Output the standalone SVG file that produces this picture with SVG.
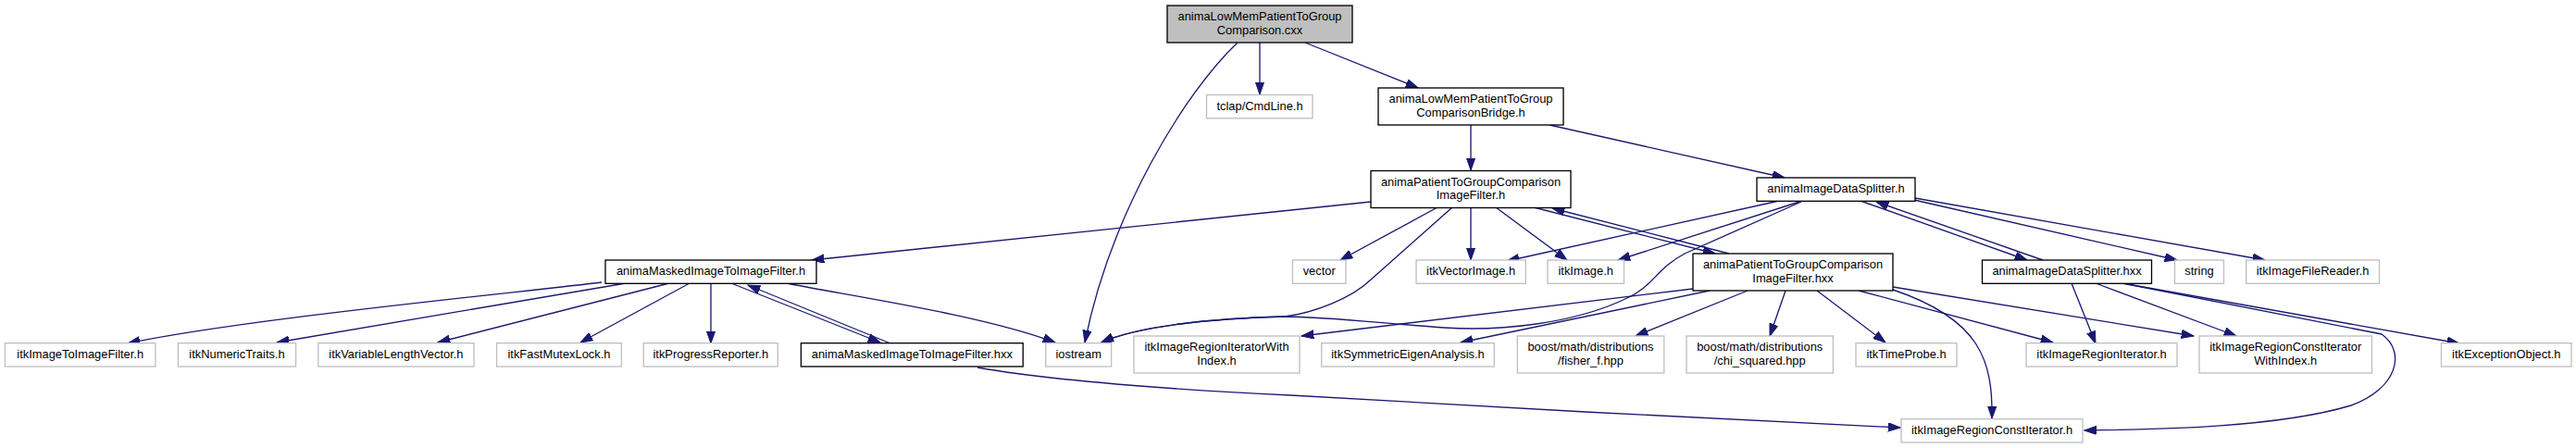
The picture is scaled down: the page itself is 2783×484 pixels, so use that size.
<svg xmlns="http://www.w3.org/2000/svg" width="2783" height="484" viewBox="0 0 2783 484">
<style>
rect{fill:#fff;stroke:#000;stroke-width:1.33}
.g rect{stroke:#bfbfbf}
.r rect{fill:#bfbfbf}
text{font-family:"Liberation Sans",Arial,Helvetica,sans-serif;font-size:12.9px;text-anchor:middle;fill:#000}
#edges path{fill:none;stroke:#191970;stroke-width:1.33;marker-end:url(#ah)}
</style>
<defs>
<marker id="ah" markerUnits="userSpaceOnUse" markerWidth="14" markerHeight="10" refX="13.3" refY="4.67" orient="auto">
<path d="M0,0 L13.3,4.67 L0,9.33 Z" fill="#191970" stroke="#191970" stroke-width="1"/>
</marker>
</defs>
<rect x="0" y="0" width="2783" height="484" style="fill:#fff;stroke:none"/>
<g id="edges">
<path d="M1361,46 L1361,102"/>
<path d="M1410,46 L1532,95"/>
<path d="M1337,46 C1280,100 1200,230 1172,370"/>
<path d="M1589,135 L1589,184"/>
<path d="M1674,135 L1928,192"/>
<path d="M1481,218 L877,281"/>
<path d="M1553,224 L1448,281"/>
<path d="M1589,224 L1589,281"/>
<path d="M1616,224 L1693,281"/>
<path d="M1569,224 L1480,303 C1460,322 1420,338 1388,342 C1310,344 1230,352 1190,370"/>
<path d="M1946,218 L1820,274 C1790,290 1785,310 1758,322 C1700,350 1620,358 1560,354 C1500,350 1430,342 1388,342 C1310,344 1230,352 1190,370"/>
<path d="M1657,224 L1853,274"/>
<path d="M1868,274 L1677,225"/>
<path d="M1829,312 L1406,363"/>
<path d="M1847,314 L1578,370"/>
<path d="M1888,314 L1767,363"/>
<path d="M1929,314 L1912,363"/>
<path d="M1963,314 L2037,370"/>
<path d="M2008,314 L2218,370"/>
<path d="M2045,310 L2370,363"/>
<path d="M2045,313 C2140,345 2153,390 2152,452"/>
<path d="M1922,217 L1628,282"/>
<path d="M1947,217 L1748,281"/>
<path d="M2010,217 L2190,281"/>
<path d="M2207,281 L2027,218"/>
<path d="M2068,216 L2352,281"/>
<path d="M2069,214 L2447,281"/>
<path d="M2238,306 L2264,371"/>
<path d="M2264,306 L2416,363"/>
<path d="M2293,306 L2657,371"/>
<path d="M2293,306 L2573,361 C2600,380 2590,420 2540,438 C2460,462 2330,464 2252,465"/>
<path d="M650,305 C560,316 260,345 138,371"/>
<path d="M676,306 L299,370"/>
<path d="M723,306 L473,370"/>
<path d="M745,306 L627,370"/>
<path d="M768,306 L768,371"/>
<path d="M790,306 L951,370"/>
<path d="M962,371 L808,308"/>
<path d="M850,306 C920,320 1060,340 1140,370"/>
<path d="M1056,397 C1130,410 1250,420 1394,427 C1600,440 1850,452 2053,462"/>
</g>
<g id="n_root" class="r"><rect x="1261" y="6" width="200" height="40"/><text x="1361" y="22">animaLowMemPatientToGroup</text><text x="1361" y="36.5">Comparison.cxx</text></g>
<g id="n_tclap" class="g"><rect x="1303.5" y="102.5" width="114.5" height="25.3"/><text x="1361" y="118.5">tclap/CmdLine.h</text></g>
<g id="n_bridge"><rect x="1489" y="95" width="200" height="40"/><text x="1589" y="111">animaLowMemPatientToGroup</text><text x="1589" y="125.5">ComparisonBridge.h</text></g>
<g id="n_ptg_h"><rect x="1481" y="184.5" width="216" height="40"/><text x="1589" y="200.5">animaPatientToGroupComparison</text><text x="1589" y="215">ImageFilter.h</text></g>
<g id="n_split_h"><rect x="1898" y="192" width="171" height="25.3"/><text x="1983.5" y="208">animaImageDataSplitter.h</text></g>
<g id="n_masked_h"><rect x="654" y="281" width="228" height="25.3"/><text x="768" y="297">animaMaskedImageToImageFilter.h</text></g>
<g id="n_vector" class="g"><rect x="1396.5" y="281" width="57.5" height="25.3"/><text x="1425.2" y="297">vector</text></g>
<g id="n_vecimg" class="g"><rect x="1530" y="281" width="118.3" height="25.3"/><text x="1589.1" y="297">itkVectorImage.h</text></g>
<g id="n_image" class="g"><rect x="1672" y="281" width="82.5" height="25.3"/><text x="1713.2" y="297">itkImage.h</text></g>
<g id="n_ptg_hxx"><rect x="1829" y="274" width="216" height="40"/><text x="1937" y="290">animaPatientToGroupComparison</text><text x="1937" y="304.5">ImageFilter.hxx</text></g>
<g id="n_split_hxx"><rect x="2141.5" y="281" width="183" height="25.3"/><text x="2233" y="297">animaImageDataSplitter.hxx</text></g>
<g id="n_string" class="g"><rect x="2349.5" y="281" width="53" height="25.3"/><text x="2376" y="297">string</text></g>
<g id="n_reader" class="g"><rect x="2426.7" y="281" width="143.8" height="25.3"/><text x="2498.6" y="297">itkImageFileReader.h</text></g>
<g id="n_i2i" class="g"><rect x="5.4" y="370.7" width="162.5" height="25.3"/><text x="86.7" y="386.7">itkImageToImageFilter.h</text></g>
<g id="n_numtraits" class="g"><rect x="192.4" y="370.7" width="127.2" height="25.3"/><text x="256" y="386.7">itkNumericTraits.h</text></g>
<g id="n_varlen" class="g"><rect x="343.8" y="370.7" width="168.2" height="25.3"/><text x="427.9" y="386.7">itkVariableLengthVector.h</text></g>
<g id="n_mutex" class="g"><rect x="536.6" y="370.7" width="134.8" height="25.3"/><text x="604" y="386.7">itkFastMutexLock.h</text></g>
<g id="n_progress" class="g"><rect x="695.3" y="370.7" width="145" height="25.3"/><text x="767.8" y="386.7">itkProgressReporter.h</text></g>
<g id="n_masked_hxx"><rect x="865.4" y="370.7" width="239.8" height="25.3"/><text x="985.3" y="386.7">animaMaskedImageToImageFilter.hxx</text></g>
<g id="n_iostream" class="g"><rect x="1129.7" y="370.7" width="71" height="25.3"/><text x="1165.2" y="386.7">iostream</text></g>
<g id="n_riwi" class="g"><rect x="1225" y="363" width="179" height="40"/><text x="1314.5" y="379">itkImageRegionIteratorWith</text><text x="1314.5" y="393.5">Index.h</text></g>
<g id="n_eigen" class="g"><rect x="1427.7" y="370.7" width="186.6" height="25.3"/><text x="1521" y="386.7">itkSymmetricEigenAnalysis.h</text></g>
<g id="n_fisher" class="g"><rect x="1639.3" y="363" width="158.5" height="40"/><text x="1718.5" y="379">boost/math/distributions</text><text x="1718.5" y="393.5">/fisher_f.hpp</text></g>
<g id="n_chi" class="g"><rect x="1822" y="363" width="158.4" height="40"/><text x="1901.2" y="379">boost/math/distributions</text><text x="1901.2" y="393.5">/chi_squared.hpp</text></g>
<g id="n_timeprobe" class="g"><rect x="2005" y="370.7" width="109" height="25.3"/><text x="2059.5" y="386.7">itkTimeProbe.h</text></g>
<g id="n_rit" class="g"><rect x="2189" y="370.7" width="163" height="25.3"/><text x="2270.5" y="386.7">itkImageRegionIterator.h</text></g>
<g id="n_rciwi" class="g"><rect x="2376" y="363" width="186.5" height="40"/><text x="2469.2" y="379">itkImageRegionConstIterator</text><text x="2469.2" y="393.5">WithIndex.h</text></g>
<g id="n_exc" class="g"><rect x="2637.5" y="370.7" width="140.5" height="25.3"/><text x="2707.8" y="386.7">itkExceptionObject.h</text></g>
<g id="n_rci" class="g"><rect x="2054" y="452.7" width="196" height="25.3"/><text x="2152" y="468.7">itkImageRegionConstIterator.h</text></g>
</svg>
